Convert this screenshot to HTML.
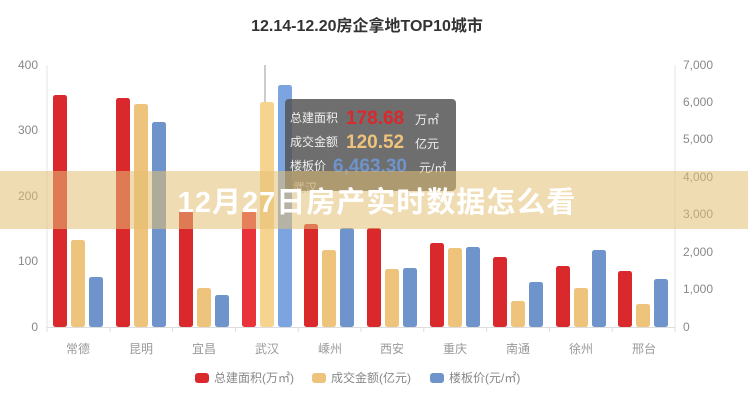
<!DOCTYPE html>
<html><head><meta charset="utf-8"><style>
html,body{margin:0;padding:0;background:#fff;}
svg{display:block;font-family:"Liberation Sans","Noto Sans CJK SC",sans-serif;}
</style></head><body>
<svg width="748" height="400" xmlns="http://www.w3.org/2000/svg">
<text x="367" y="31" text-anchor="middle" font-size="16" font-weight="bold" fill="#333">12.14-12.20房企拿地TOP10城市</text>
<g font-size="12" fill="#888">
<text x="38" y="69" text-anchor="end">400</text>
<text x="38" y="134" text-anchor="end">300</text>
<text x="38" y="200" text-anchor="end">200</text>
<text x="38" y="265" text-anchor="end">100</text>
<text x="38" y="331" text-anchor="end">0</text>
<text x="683" y="69">7,000</text>
<text x="683" y="106">6,000</text>
<text x="683" y="143">5,000</text>
<text x="683" y="181">4,000</text>
<text x="683" y="218">3,000</text>
<text x="683" y="256">2,000</text>
<text x="683" y="293">1,000</text>
<text x="683" y="331">0</text>
</g>
<line x1="47" y1="65" x2="47" y2="327" stroke="#e6e6e6"/>
<line x1="675" y1="65" x2="675" y2="327" stroke="#e6e6e6"/>
<line x1="47" y1="327.5" x2="675" y2="327.5" stroke="#ddd"/>
<g stroke="#ddd">
<line x1="47" y1="327" x2="47" y2="332"/><line x1="110" y1="327" x2="110" y2="332"/><line x1="172.6" y1="327" x2="172.6" y2="332"/><line x1="235.4" y1="327" x2="235.4" y2="332"/><line x1="298.2" y1="327" x2="298.2" y2="332"/><line x1="361" y1="327" x2="361" y2="332"/><line x1="423.8" y1="327" x2="423.8" y2="332"/><line x1="486.6" y1="327" x2="486.6" y2="332"/><line x1="549.4" y1="327" x2="549.4" y2="332"/><line x1="612.2" y1="327" x2="612.2" y2="332"/><line x1="675" y1="327" x2="675" y2="332"/>
</g>
<line x1="265" y1="65" x2="265" y2="327" stroke="#999"/>
<g>
<rect x="53" y="95" width="14" height="232" rx="2.5" fill="#d9292d"/>
<rect x="71" y="240" width="14" height="87" rx="2.5" fill="#eec37b"/>
<rect x="89" y="277" width="14" height="50" rx="2.5" fill="#6f93cb"/>
<rect x="116" y="98" width="14" height="229" rx="2.5" fill="#d9292d"/>
<rect x="134" y="104" width="14" height="223" rx="2.5" fill="#eec37b"/>
<rect x="152" y="122" width="14" height="205" rx="2.5" fill="#6f93cb"/>
<rect x="179" y="210" width="14" height="117" rx="2.5" fill="#d9292d"/>
<rect x="197" y="288" width="14" height="39" rx="2.5" fill="#eec37b"/>
<rect x="215" y="295" width="14" height="32" rx="2.5" fill="#6f93cb"/>
<rect x="242" y="211" width="14" height="116" rx="2.5" fill="#e8333a"/>
<rect x="260" y="102" width="14" height="225" rx="2.5" fill="#f6d38f"/>
<rect x="278" y="85" width="14" height="242" rx="2.5" fill="#7ba4e0"/>
<rect x="304" y="224" width="14" height="103" rx="2.5" fill="#d9292d"/>
<rect x="322" y="250" width="14" height="77" rx="2.5" fill="#eec37b"/>
<rect x="340" y="228" width="14" height="99" rx="2.5" fill="#6f93cb"/>
<rect x="367" y="228" width="14" height="99" rx="2.5" fill="#d9292d"/>
<rect x="385" y="269" width="14" height="58" rx="2.5" fill="#eec37b"/>
<rect x="403" y="268" width="14" height="59" rx="2.5" fill="#6f93cb"/>
<rect x="430" y="243" width="14" height="84" rx="2.5" fill="#d9292d"/>
<rect x="448" y="248" width="14" height="79" rx="2.5" fill="#eec37b"/>
<rect x="466" y="247" width="14" height="80" rx="2.5" fill="#6f93cb"/>
<rect x="493" y="257" width="14" height="70" rx="2.5" fill="#d9292d"/>
<rect x="511" y="301" width="14" height="26" rx="2.5" fill="#eec37b"/>
<rect x="529" y="282" width="14" height="45" rx="2.5" fill="#6f93cb"/>
<rect x="556" y="266" width="14" height="61" rx="2.5" fill="#d9292d"/>
<rect x="574" y="288" width="14" height="39" rx="2.5" fill="#eec37b"/>
<rect x="592" y="250" width="14" height="77" rx="2.5" fill="#6f93cb"/>
<rect x="618" y="271" width="14" height="56" rx="2.5" fill="#d9292d"/>
<rect x="636" y="304" width="14" height="23" rx="2.5" fill="#eec37b"/>
<rect x="654" y="279" width="14" height="48" rx="2.5" fill="#6f93cb"/>
</g>
<g font-size="12" fill="#999" text-anchor="middle">
<text x="78" y="353">常德</text><text x="141" y="353">昆明</text><text x="204" y="353">宜昌</text><text x="267" y="353">武汉</text><text x="330" y="353">嵊州</text><text x="392" y="353">西安</text><text x="455" y="353">重庆</text><text x="518" y="353">南通</text><text x="581" y="353">徐州</text><text x="644" y="353">邢台</text>
</g>
<rect x="285" y="99" width="171" height="92" rx="4" fill="#555" fill-opacity="0.85"/>
<g font-size="12" fill="#eee">
<text x="290" y="122">总建面积</text>
<text x="290" y="146">成交金额</text>
<text x="290" y="170">楼板价</text>
<text x="293" y="192" fill="#ccc">武汉</text>
</g>
<text x="346" y="124" font-size="19" font-weight="bold" fill="#d9292d">178.68</text>
<text x="415" y="124" font-size="12" fill="#eee">万㎡</text>
<text x="346" y="148" font-size="19" font-weight="bold" fill="#eec37b">120.52</text>
<text x="415" y="148" font-size="12" fill="#eee">亿元</text>
<text x="333" y="172" font-size="19" font-weight="bold" fill="#6f93cb">6,463.30</text>
<text x="419" y="172" font-size="12" fill="#eee">元/㎡</text>
<rect x="0" y="171" width="748" height="58" fill="#e3bf75" fill-opacity="0.55"/>
<text x="377" y="212" text-anchor="middle" font-size="29" font-weight="bold" fill="#fff" letter-spacing="1">12月27日房产实时数据怎么看</text>
<g font-size="12" fill="#888">
<rect x="195" y="373" width="14" height="10" rx="3" fill="#d9292d"/><text x="214" y="382">总建面积(万㎡)</text>
<rect x="312" y="373" width="14" height="10" rx="3" fill="#eec37b"/><text x="331" y="382">成交金额(亿元)</text>
<rect x="430" y="373" width="14" height="10" rx="3" fill="#6f93cb"/><text x="449" y="382">楼板价(元/㎡)</text>
</g>
</svg>
</body></html>
